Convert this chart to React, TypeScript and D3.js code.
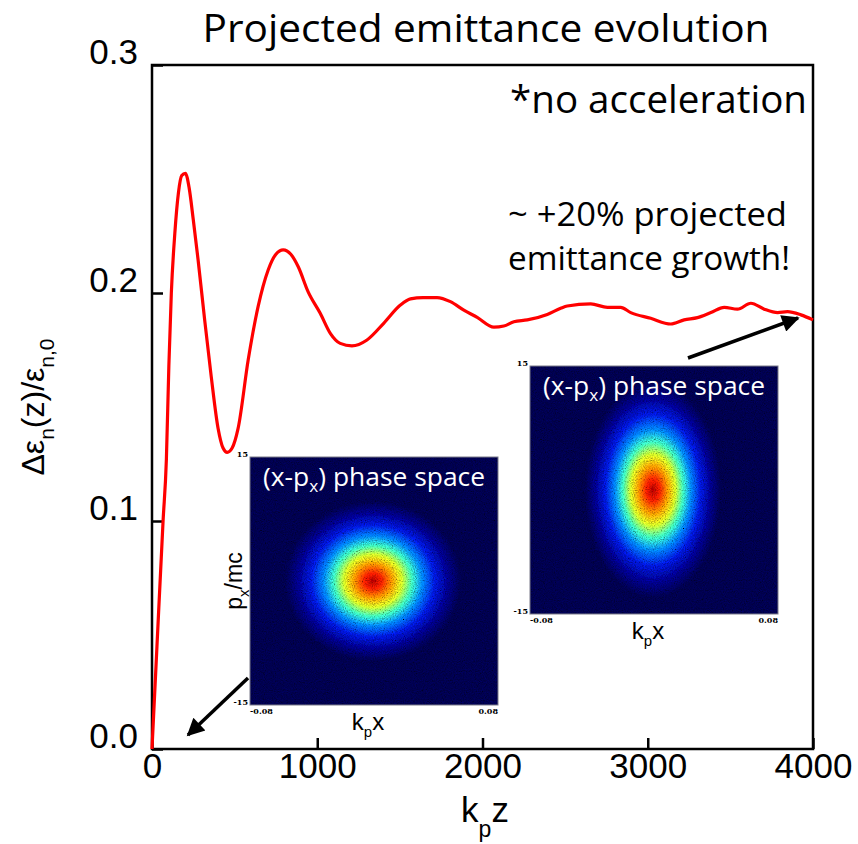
import React, { useEffect, useRef } from 'react';
import * as d3 from 'd3';

// emittance growth curve
const kpz = [
  0, 30, 67, 87, 102, 117, 138, 160, 180, 202, 225, 250, 279, 319, 359, 400, 430, 455, 485, 521,
  582, 642, 703, 750, 794, 840, 885, 945, 1018, 1079, 1139, 1210, 1301, 1402, 1503, 1564, 1640,
  1725, 1806, 1887, 1968, 2069, 2129, 2190, 2271, 2392, 2473, 2513, 2655, 2756, 2836, 2897, 3018,
  3139, 3220, 3301, 3382, 3463, 3543, 3624, 3705, 3786, 3846, 3927, 4000,
];
const deltaEmit = [
  0, 0.045, 0.1, 0.127, 0.168, 0.2, 0.226, 0.244, 0.2515, 0.2525, 0.246, 0.232, 0.2145, 0.188,
  0.163, 0.1406, 0.132, 0.1301, 0.132, 0.1406, 0.1706, 0.194, 0.2101, 0.217, 0.2189, 0.217,
  0.2115, 0.2005, 0.1911, 0.1823, 0.1779, 0.1768, 0.1794, 0.1867, 0.1947, 0.1974, 0.198, 0.198,
  0.1962, 0.1925, 0.1893, 0.185, 0.1855, 0.1874, 0.1882, 0.1906, 0.1933, 0.1943, 0.1952, 0.1937,
  0.1937, 0.1914, 0.1889, 0.1864, 0.1882, 0.1892, 0.1914, 0.1937, 0.1929, 0.1955, 0.1929, 0.1914,
  0.1918, 0.1904, 0.1882,
];
const xTicks = [0, 1000, 2000, 3000, 4000];
const yTicks = [0, 0.1, 0.2, 0.3];
const insetYTicks = ['15', '-15'];
const insetXTicks = ['-0.08', '0.08'];
// jet colormap stops, centre -> edge
const jetOffsets = [0, 0.1, 0.22, 0.33, 0.44, 0.56, 0.7, 0.85, 1];
const jetColors = ['#b00000', '#ff2000', '#ffa000', '#d8ff28', '#40ffc0', '#0088ff', '#0018e0', '#000090', '#000050'];

const W = 858;
const H = 844;

const EmittanceChart: React.FC = () => {
  const ref = useRef<SVGSVGElement | null>(null);

  useEffect(() => {
    if (!ref.current) return;
    const svg = d3.select(ref.current);
    svg.selectAll('*').remove();

    const margin = { top: 65, right: 45, bottom: 95, left: 152 };
    const innerW = W - margin.left - margin.right;
    const innerH = H - margin.top - margin.bottom;
    const axisFont = 'Liberation Sans, Arial, sans-serif';
    const textFont = 'Open Sans, sans-serif';

    const x = d3.scaleLinear().domain([0, 4000]).range([0, innerW]);
    const y = d3.scaleLinear().domain([0, 0.3]).range([innerH, 0]);

    const defs = svg.append('defs');
    const arrowHead = defs
      .append('marker')
      .attr('id', 'head')
      .attr('viewBox', '0 0 10 10')
      .attr('refX', 9)
      .attr('refY', 5)
      .attr('markerWidth', 6)
      .attr('markerHeight', 5)
      .attr('orient', 'auto');
    arrowHead.append('path').attr('d', 'M0,0 L10,5 L0,10 Z').attr('fill', '#000');

    // speckle texture for the particle density maps
    const speckle = defs
      .append('filter')
      .attr('id', 'speckle')
      .attr('x', 0)
      .attr('y', 0)
      .attr('width', 1)
      .attr('height', 1);
    speckle
      .append('feTurbulence')
      .attr('type', 'fractalNoise')
      .attr('baseFrequency', 0.9)
      .attr('numOctaves', 2)
      .attr('seed', 4)
      .attr('result', 'noise');
    speckle
      .append('feColorMatrix')
      .attr('in', 'noise')
      .attr('type', 'matrix')
      .attr('values', '0.33 0.33 0.33 0 0  0.33 0.33 0.33 0 0  0.33 0.33 0.33 0 0  0 0 0 0 1')
      .attr('result', 'grey');
    speckle
      .append('feComposite')
      .attr('in', 'SourceGraphic')
      .attr('in2', 'grey')
      .attr('operator', 'arithmetic')
      .attr('k1', 3)
      .attr('k2', -0.5)
      .attr('k3', 0)
      .attr('k4', 0);

    // title
    svg
      .append('text')
      .attr('x', 486)
      .attr('y', 42)
      .attr('text-anchor', 'middle')
      .attr('font-family', textFont)
      .attr('font-size', 39)
      .attr('textLength', 567)
      .attr('lengthAdjust', 'spacingAndGlyphs')
      .attr('fill', '#000')
      .text('Projected emittance evolution');

    const g = svg.append('g').attr('transform', `translate(${margin.left},${margin.top})`);

    // axes
    const yAxis = g
      .append('g')
      .call(
        d3
          .axisLeft(y)
          .tickValues(yTicks)
          .tickSize(-11)
          .tickPadding(14)
          .tickFormat(d3.format('.1f'))
      );
    const xAxis = g
      .append('g')
      .attr('transform', `translate(0,${innerH})`)
      .call(d3.axisBottom(x).tickValues(xTicks).tickSize(-11).tickPadding(4).tickFormat(d3.format('d')));
    [yAxis, xAxis].forEach((a) => {
      a.select('.domain').remove();
      a.selectAll('line').attr('stroke', '#000').attr('stroke-width', 2.5);
      a.selectAll('text').attr('font-family', axisFont).attr('font-size', 35).attr('fill', '#000');
    });
    yAxis.selectAll('text').attr('dy', '-0.04em');

    g.append('rect')
      .attr('width', innerW)
      .attr('height', innerH)
      .attr('fill', 'none')
      .attr('stroke', '#000')
      .attr('stroke-width', 2.5);

    // axis titles
    const xLab = svg
      .append('text')
      .attr('x', 485)
      .attr('y', 822)
      .attr('text-anchor', 'middle')
      .attr('font-family', axisFont)
      .attr('font-size', 35)
      .attr('fill', '#000');
    xLab.append('tspan').text('k');
    xLab.append('tspan').attr('font-size', 23).attr('dy', 15).text('p');
    xLab.append('tspan').attr('dy', -15).text('z');

    const yLab = svg
      .append('text')
      .attr('transform', 'translate(44,407) rotate(-90)')
      .attr('text-anchor', 'middle')
      .attr('font-family', axisFont)
      .attr('font-size', 32)
      .attr('fill', '#000');
    yLab.append('tspan').text('Δε');
    yLab.append('tspan').attr('font-size', 21).attr('dy', 10).text('n');
    yLab.append('tspan').attr('dy', -10).text('(z)/ε');
    yLab.append('tspan').attr('font-size', 21).attr('dy', 10).text('n,0');

    // curve
    const pts = kpz.map((z, i) => [z, deltaEmit[i]] as [number, number]);
    const line = d3
      .line<[number, number]>()
      .x((d) => x(d[0]))
      .y((d) => y(d[1]))
      .curve(d3.curveMonotoneX);
    g.append('path')
      .datum(pts)
      .attr('fill', 'none')
      .attr('stroke', '#ff0000')
      .attr('stroke-width', 3.2)
      .attr('stroke-linejoin', 'round')
      .attr('d', line);

    // annotations
    const notes: [string, number, number, number, number][] = [
      ['*no acceleration', 510, 113, 38, 297],
      ['~ +20% projected', 508, 226, 32, 279],
      ['emittance growth!', 508, 270, 32, 282],
    ];
    notes.forEach(([t, nx, ny, fs, len]) => {
      svg
        .append('text')
        .attr('x', nx)
        .attr('y', ny)
        .attr('font-family', textFont)
        .attr('font-size', fs)
        .attr('textLength', len)
        .attr('lengthAdjust', 'spacingAndGlyphs')
        .attr('fill', '#000')
        .text(t);
    });

    // phase space insets
    const insets = [
      { id: 'ps0', x0: 250, y0: 457, cx: 123, cy: 124, rx: 88, ry: 80, showP: true },
      { id: 'ps1', x0: 530, y0: 366, cx: 123, cy: 124, rx: 68, ry: 108, showP: false },
    ];
    const size = 248;
    insets.forEach((ins) => {
      const grad = defs.append('radialGradient').attr('id', ins.id);
      jetOffsets.forEach((o, i) => {
        grad.append('stop').attr('offset', o).attr('stop-color', jetColors[i]);
      });
      const ig = svg.append('g').attr('transform', `translate(${ins.x0},${ins.y0})`);
      const map = ig.append('g').attr('filter', 'url(#speckle)');
      map.append('rect').attr('width', size).attr('height', size).attr('fill', '#000050');
      map
        .append('ellipse')
        .attr('cx', ins.cx)
        .attr('cy', ins.cy)
        .attr('rx', ins.rx)
        .attr('ry', ins.ry)
        .attr('fill', `url(#${ins.id})`);
      ig.append('rect')
        .attr('width', size)
        .attr('height', size)
        .attr('fill', 'none')
        .attr('stroke', '#7a7a8a')
        .attr('stroke-width', 1);

      const tt = ig
        .append('text')
        .attr('x', size / 2)
        .attr('y', 29)
        .attr('text-anchor', 'middle')
        .attr('font-family', textFont)
        .attr('font-size', 26)
        .attr('textLength', 222)
        .attr('lengthAdjust', 'spacingAndGlyphs')
        .attr('fill', '#fff');
      tt.append('tspan').text('(x-p');
      tt.append('tspan').attr('font-size', 17).attr('dy', 6).text('x');
      tt.append('tspan').attr('dy', -6).text(') phase space');

      const tickStyle = (s: d3.Selection<SVGTextElement, unknown, null, undefined>) =>
        s.attr('font-family', 'DejaVu Serif, serif').attr('font-size', 8).attr('font-weight', 'bold').attr('fill', '#000');
      insetYTicks.forEach((t, i) => {
        ig.append('text').attr('x', -2).attr('y', i === 0 ? 0 : size).attr('text-anchor', 'end').text(t).call(tickStyle);
      });
      insetXTicks.forEach((t, i) => {
        ig.append('text')
          .attr('x', i === 0 ? 0 : size)
          .attr('y', size + 9)
          .attr('text-anchor', i === 0 ? 'start' : 'end')
          .text(t)
          .call(tickStyle);
      });

      const kx = ig
        .append('text')
        .attr('x', 118)
        .attr('y', size + 25)
        .attr('text-anchor', 'middle')
        .attr('font-family', axisFont)
        .attr('font-size', 24)
        .attr('fill', '#000');
      kx.append('tspan').text('k');
      kx.append('tspan').attr('font-size', 15).attr('dy', 7).text('p');
      kx.append('tspan').attr('dy', -7).text('x');

      if (ins.showP) {
        const pl = ig
          .append('text')
          .attr('transform', `translate(-8,${size / 2}) rotate(-90)`)
          .attr('text-anchor', 'middle')
          .attr('font-family', axisFont)
          .attr('font-size', 23)
          .attr('fill', '#000');
        pl.append('tspan').text('p');
        pl.append('tspan').attr('font-size', 15).attr('dy', 7).text('x');
        pl.append('tspan').attr('dy', -7).text('/mc');
      }
    });

    // arrows pointing to the phase space locations
    const arrows: [number, number, number, number][] = [
      [248, 678, 188, 735],
      [688, 358, 798, 318],
    ];
    arrows.forEach(([x1, y1, x2, y2]) => {
      svg
        .append('line')
        .attr('x1', x1)
        .attr('y1', y1)
        .attr('x2', x2)
        .attr('y2', y2)
        .attr('stroke', '#000')
        .attr('stroke-width', 3.5)
        .attr('marker-end', 'url(#head)');
    });
  }, []);

  return <svg ref={ref} width={W} height={H} style={{ position: 'absolute', left: 0, top: 0, background: '#fff' }} />;
};

export default function App() {
  return <EmittanceChart />;
}
